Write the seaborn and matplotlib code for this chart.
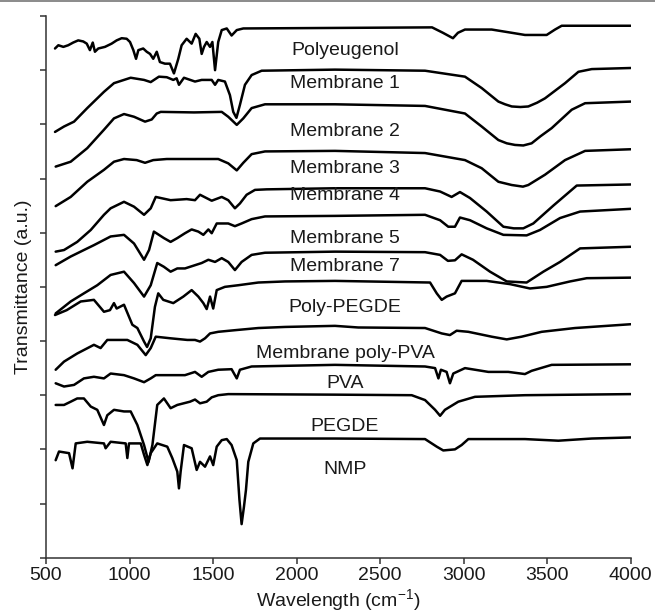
import matplotlib
matplotlib.use("Agg")
import matplotlib.pyplot as plt
from matplotlib.lines import Line2D
import seaborn as sns

# ---------------- data ----------------
polyeugenol_wn = [554, 574, 604, 633, 663, 693, 723, 744, 763, 780, 793, 813, 853, 893, 923, 953, 983, 1003, 1023,
                  1039, 1053, 1082, 1103, 1123, 1142, 1163, 1182, 1212, 1242, 1266, 1292, 1312, 1342, 1372, 1396,
                  1418, 1432, 1446, 1462, 1482, 1496, 1512, 1531, 1552, 1582, 1611, 1642, 1681, 2811, 2876, 2936,
                  2966, 3008, 3168, 3288, 3367, 3497, 3547, 3587, 4000]
polyeugenol_t = [9.40, 9.46, 9.43, 9.46, 9.51, 9.55, 9.53, 9.49, 9.37, 9.51, 9.34, 9.40, 9.43, 9.49, 9.55, 9.59,
                 9.58, 9.52, 9.37, 9.21, 9.37, 9.40, 9.34, 9.30, 9.21, 9.34, 9.15, 9.12, 9.12, 8.94, 9.21, 9.46,
                 9.58, 9.49, 9.67, 9.58, 9.30, 9.43, 9.52, 9.43, 9.52, 9.00, 9.52, 9.74, 9.77, 9.64, 9.74, 9.77,
                 9.79, 9.69, 9.59, 9.69, 9.75, 9.75, 9.69, 9.65, 9.65, 9.75, 9.82, 9.82]

m1_wn = [554, 608, 668, 747, 847, 907, 967, 1007, 1087, 1127, 1176, 1223, 1262, 1282, 1296, 1326, 1392, 1432, 1492,
         1512, 1531, 1571, 1601, 1621, 1640, 1661, 1691, 1731, 1791, 2230, 2769, 3008, 3108, 3208, 3248, 3288, 3340,
         3387, 3440, 3487, 3607, 3687, 3767, 4000]
m1_t = [7.86, 7.96, 8.05, 8.30, 8.60, 8.76, 8.82, 8.86, 8.82, 8.78, 8.88, 8.87, 8.82, 8.85, 8.73, 8.86, 8.79, 8.82,
        8.82, 8.73, 8.82, 8.79, 8.54, 8.23, 8.12, 8.36, 8.73, 8.91, 8.99, 9.01, 8.99, 8.88, 8.67, 8.42, 8.37, 8.33,
        8.32, 8.33, 8.40, 8.48, 8.76, 8.97, 9.02, 9.04]

m2_wn = [558, 648, 747, 847, 907, 967, 1027, 1093, 1133, 1163, 1187, 1386, 1552, 1591, 1642, 1681, 1731, 1811, 2230,
         2769, 3008, 3108, 3208, 3258, 3307, 3357, 3407, 3460, 3527, 3647, 3727, 4000]
m2_t = [7.22, 7.31, 7.56, 7.90, 8.11, 8.19, 8.14, 8.05, 8.09, 8.20, 8.23, 8.22, 8.23, 8.14, 7.99, 8.11, 8.30, 8.37,
        8.37, 8.34, 8.20, 7.96, 7.71, 7.65, 7.62, 7.61, 7.65, 7.78, 7.93, 8.27, 8.39, 8.42]

m3_wn = [558, 648, 747, 847, 907, 967, 1043, 1093, 1142, 1223, 1531, 1591, 1642, 1681, 1731, 1811, 2230, 2769, 3008,
         3108, 3208, 3288, 3355, 3387, 3487, 3607, 3727, 4000]
m3_t = [6.49, 6.66, 6.94, 7.16, 7.31, 7.36, 7.34, 7.29, 7.34, 7.36, 7.36, 7.28, 7.15, 7.29, 7.45, 7.50, 7.51, 7.47,
        7.34, 7.19, 6.94, 6.88, 6.85, 6.88, 7.07, 7.34, 7.51, 7.54]

m4_wn = [558, 608, 687, 768, 847, 887, 967, 1027, 1087, 1127, 1157, 1246, 1342, 1392, 1422, 1492, 1552, 1591, 1631,
         1661, 1701, 1751, 1821, 2230, 2769, 2859, 2928, 2978, 3038, 3138, 3238, 3300, 3357, 3417, 3537, 3677, 4000]
m4_t = [5.65, 5.68, 5.83, 6.05, 6.33, 6.45, 6.57, 6.48, 6.33, 6.45, 6.66, 6.60, 6.62, 6.60, 6.70, 6.59, 6.66, 6.60,
        6.45, 6.54, 6.70, 6.79, 6.80, 6.82, 6.82, 6.76, 6.66, 6.75, 6.64, 6.39, 6.11, 6.08, 6.08, 6.17, 6.50, 6.87,
        6.89]

m5_wn = [558, 648, 747, 787, 887, 967, 1027, 1087, 1117, 1146, 1176, 1206, 1246, 1286, 1332, 1372, 1412, 1442, 1472,
         1492, 1522, 1591, 1631, 1671, 1731, 1811, 2230, 2769, 2859, 2908, 2948, 2978, 3038, 3138, 3238, 3377, 3457,
         3577, 3697, 4000]
m5_t = [5.40, 5.56, 5.71, 5.77, 5.93, 5.96, 5.80, 5.50, 5.68, 6.02, 5.96, 5.90, 5.83, 5.90, 5.99, 6.06, 6.02, 5.96,
        6.06, 5.99, 6.17, 6.17, 6.12, 6.17, 6.25, 6.30, 6.31, 6.33, 6.23, 6.11, 6.11, 6.28, 6.23, 6.08, 5.96, 5.95,
        6.05, 6.27, 6.39, 6.44]

m7_wn = [558, 648, 727, 807, 887, 967, 1027, 1087, 1127, 1166, 1206, 1246, 1286, 1332, 1392, 1432, 1472, 1512, 1552,
         1591, 1631, 1671, 1731, 1811, 2230, 2769, 2859, 2906, 2948, 2988, 3056, 3158, 3258, 3377, 3477, 3577, 3697,
         4000]
m7_t = [4.51, 4.73, 4.88, 5.03, 5.22, 5.28, 5.07, 4.82, 5.03, 5.44, 5.37, 5.28, 5.34, 5.34, 5.40, 5.44, 5.50, 5.46,
        5.53, 5.46, 5.31, 5.46, 5.59, 5.63, 5.65, 5.64, 5.59, 5.48, 5.49, 5.60, 5.50, 5.28, 5.10, 5.08, 5.28, 5.46,
        5.71, 5.74]

polypegde_wn = [554, 624, 708, 787, 847, 883, 907, 923, 967, 1017, 1047, 1087, 1105, 1127, 1152, 1172, 1202, 1262,
                1322, 1372, 1412, 1442, 1462, 1482, 1501, 1522, 1571, 1651, 1771, 1931, 2230, 2799, 2839, 2869, 2898,
                2948, 2988, 3138, 3278, 3397, 3497, 3637, 3737, 4000]
polypegde_t = [4.48, 4.57, 4.73, 4.76, 4.54, 4.57, 4.70, 4.60, 4.67, 4.30, 4.24, 3.99, 3.89, 4.05, 4.63, 4.88, 4.76,
               4.70, 4.82, 4.94, 4.82, 4.70, 4.59, 4.82, 4.60, 4.94, 5.00, 5.03, 5.08, 5.10, 5.11, 5.08, 4.88, 4.76,
               4.82, 4.88, 5.11, 5.11, 5.05, 4.97, 5.00, 5.10, 5.16, 5.17]

mpva_wn = [558, 608, 687, 787, 827, 867, 987, 1047, 1097, 1127, 1157, 1246, 1346, 1392, 1422, 1452, 1482, 1531, 1631,
           1771, 1931, 2230, 2369, 2769, 2869, 2918, 2958, 3028, 3168, 3258, 3347, 3467, 3667, 4000]
mpva_t = [3.47, 3.62, 3.77, 3.93, 3.87, 4.02, 4.02, 3.93, 3.74, 3.87, 4.08, 4.05, 4.02, 4.02, 3.99, 4.05, 4.14, 4.17,
          4.20, 4.24, 4.26, 4.28, 4.25, 4.24, 4.14, 4.11, 4.19, 4.17, 4.08, 4.03, 4.08, 4.17, 4.24, 4.31]

pva_wn = [558, 608, 668, 727, 787, 847, 887, 967, 1027, 1087, 1127, 1157, 1286, 1332, 1392, 1432, 1472, 1531, 1611,
          1642, 1661, 1731, 2230, 2769, 2829, 2849, 2864, 2898, 2918, 2938, 3008, 3148, 3267, 3367, 3407, 3527, 4000]
pva_t = [3.22, 3.16, 3.19, 3.31, 3.34, 3.31, 3.40, 3.37, 3.31, 3.24, 3.31, 3.37, 3.37, 3.37, 3.43, 3.34, 3.43, 3.47,
         3.48, 3.31, 3.47, 3.53, 3.56, 3.53, 3.50, 3.31, 3.47, 3.43, 3.22, 3.40, 3.50, 3.43, 3.43, 3.39, 3.45, 3.56,
         3.57]

pegde_wn = [558, 608, 648, 687, 727, 768, 807, 847, 867, 907, 967, 1007, 1047, 1087, 1114, 1137, 1166, 1206, 1246,
            1286, 1362, 1392, 1422, 1462, 1492, 1531, 1591, 2230, 2689, 2769, 2829, 2859, 2888, 2968, 3068, 3367, 4000]
pegde_t = [2.82, 2.82, 2.88, 2.94, 2.94, 2.79, 2.73, 2.45, 2.63, 2.73, 2.70, 2.70, 2.45, 2.08, 1.77, 2.08, 2.82, 2.94,
           2.76, 2.82, 2.88, 2.92, 2.85, 2.88, 2.96, 3.00, 3.02, 3.01, 3.00, 2.91, 2.73, 2.62, 2.73, 2.88, 2.97, 3.00,
           3.02]

nmp_wn = [558, 578, 638, 659, 678, 747, 847, 857, 887, 977, 987, 997, 1067, 1087, 1107, 1127, 1166, 1226, 1256, 1286,
          1296, 1306, 1326, 1372, 1402, 1422, 1452, 1482, 1501, 1522, 1552, 1582, 1611, 1642, 1658, 1671, 1685, 1697,
          1711, 1741, 1781, 2230, 2769, 2839, 2878, 2948, 2988, 3028, 3367, 3567, 3767, 4000]
nmp_t = [1.80, 1.96, 1.93, 1.65, 2.11, 2.14, 2.11, 2.02, 2.14, 2.11, 1.84, 2.11, 2.11, 1.90, 1.71, 1.93, 2.11, 2.05,
         1.84, 1.59, 1.28, 1.59, 2.08, 2.02, 1.62, 1.77, 1.68, 1.87, 1.71, 2.05, 2.17, 2.19, 2.08, 1.80, 1.07, 0.62,
         0.94, 1.25, 1.77, 2.11, 2.20, 2.20, 2.19, 2.05, 1.98, 2.00, 2.08, 2.19, 2.19, 2.16, 2.20, 2.22]

sample_names = ["Polyeugenol", "Membrane 1", "Membrane 2", "Membrane 3", "Membrane 4", "Membrane 5",
                "Membrane 7", "Poly-PEGDE", "Membrane poly-PVA", "PVA", "PEGDE", "NMP"]
spectra_wn = [polyeugenol_wn, m1_wn, m2_wn, m3_wn, m4_wn, m5_wn, m7_wn, polypegde_wn, mpva_wn, pva_wn, pegde_wn,
              nmp_wn]
spectra_t = [polyeugenol_t, m1_t, m2_t, m3_t, m4_t, m5_t, m7_t, polypegde_t, mpva_t, pva_t, pegde_t, nmp_t]
label_wn = 2290
label_t = [9.37, 8.76, 7.86, 7.19, 6.68, 5.90, 5.37, 4.61, 3.77, 3.22, 2.42, 1.62]

x_ticks = [500, 1000, 1500, 2000, 2500, 3000, 3500, 4000]
y_ticks = list(range(0, 11))

# ---------------- style ----------------
sns.set_style("ticks")
plt.rcParams["font.family"] = ["Liberation Sans", "DejaVu Sans"]
plt.rcParams["mathtext.fontset"] = "custom"
plt.rcParams["mathtext.rm"] = "Liberation Sans"
plt.rcParams["mathtext.it"] = "Liberation Sans:italic"
plt.rcParams["mathtext.bf"] = "Liberation Sans:bold"

fig = plt.figure(figsize=(6.55, 6.13), dpi=100)
ax = fig.add_axes([0.0702, 0.0902, 0.8927, 0.8837])

for name, wn, t in zip(sample_names, spectra_wn, spectra_t):
    sns.lineplot(x=wn, y=t, ax=ax, color="black", linewidth=1.8, sort=False, estimator=None)

text_col = "#1a1a1a"
for name, yv in zip(sample_names, label_t):
    ax.text(label_wn, yv, name, ha="center", va="center", fontsize=14, color=text_col)

ax.set_xlim(500, 4000)
ax.set_ylim(0, 10)
ax.set_xticks(x_ticks)
ax.set_yticks(y_ticks)
ax.set_yticklabels([])
ax.tick_params(axis="both", direction="out", length=4, width=1.1, colors="#333333",
               labelsize=14, labelcolor=text_col, pad=3)
for side in ["top", "right"]:
    ax.spines[side].set_visible(False)
for side in ["left", "bottom"]:
    ax.spines[side].set_linewidth(1.1)
    ax.spines[side].set_color("#333333")

ax.set_xlabel("Wavelength (cm$^{-1}$)", fontsize=14, color=text_col, labelpad=2)
ax.set_ylabel("Transmittance (a.u.)", fontsize=14, color=text_col)
ax.yaxis.set_label_coords(-0.024, 0.5)

fig.add_artist(Line2D([0, 1], [0.9985, 0.9985], transform=fig.transFigure, color="#777777", linewidth=1.2))

fig.savefig("out.png", dpi=100)
